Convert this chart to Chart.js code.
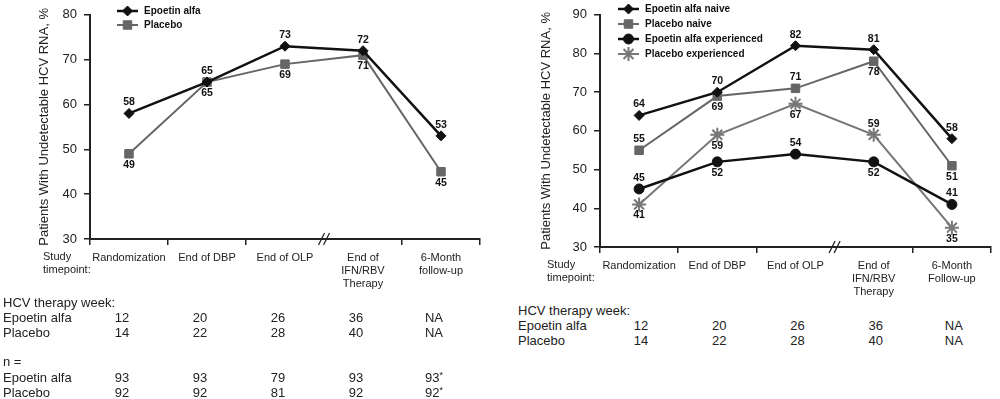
<!DOCTYPE html>
<html><head><meta charset="utf-8">
<script src="https://cdn.jsdelivr.net/npm/chart.js@4"></script>
<style>
html,body{margin:0;padding:0;background:#fff;}
body{width:1000px;height:399px;position:relative;overflow:hidden;font-family:"Liberation Sans",Arial,sans-serif;color:#222;}
canvas{position:absolute;top:0;}
.t{position:absolute;font-size:13px;line-height:15px;white-space:nowrap;}
.c{transform:translateX(-50%);}
sup{font-size:9px;vertical-align:4px;line-height:0;}
</style></head><body>
<canvas id="c1" width="490" height="300" style="left:0"></canvas>
<canvas id="c2" width="500" height="300" style="left:500px"></canvas>
<div id="tables"></div>
<script>
// ---- data ----
const categoriesLeft = [['Randomization'], ['End of DBP'], ['End of OLP'], ['End of', 'IFN/RBV', 'Therapy'], ['6-Month', 'follow-up']];
const categoriesRight = [['Randomization'], ['End of DBP'], ['End of OLP'], ['End of', 'IFN/RBV', 'Therapy'], ['6-Month', 'Follow-up']];
const epoetin = [58, 65, 73, 72, 53];
const placebo = [49, 65, 69, 71, 45];
const epoNaive = [64, 70, 82, 81, 58];
const pboNaive = [55, 69, 71, 78, 51];
const epoExp = [45, 52, 54, 52, 41];
const pboExp = [41, 59, 67, 59, 35];
const leftTicks = [30, 40, 50, 60, 70, 80];
const rightTicks = [30, 40, 50, 60, 70, 80, 90];
const yTitle = 'Patients With Undetectable HCV RNA, %';
const weekEpo = ['12', '20', '26', '36', 'NA'];
const weekPbo = ['14', '22', '28', '40', 'NA'];
const nEpo = ['93', '93', '79', '93', '93*'];
const nPbo = ['92', '92', '81', '92', '92*'];
// label placement: a = above, b = below
const posEpoetin = ['a', 'a', 'a', 'a', 'a'];
const posPlacebo = ['b', 'b', 'b', 'b', 'b'];
const posEpoNaive = ['a', 'a', 'a', 'a', 'a'];
const posPboNaive = ['a', 'b', 'a', 'b', 'b'];
const posEpoExp = ['a', 'b', 'a', 'b', 'a'];
const posPboExp = ['b', 'b', 'b', 'a', 'b'];

Chart.defaults.font.family = '"Liberation Sans", Arial, sans-serif';
Chart.defaults.color = '#222';

const BLACK = '#111';
const GRAY = '#666';

function makeDs(label, data, pos, color, style, radius, width) {
  return {
    label, data, labelPos: pos,
    borderColor: color, backgroundColor: color,
    pointBackgroundColor: color, pointBorderColor: color,
    pointStyle: style, pointRadius: radius, pointHoverRadius: radius,
    pointBorderWidth: style === 'star' ? 2 : 1,
    borderWidth: width, tension: 0, fill: false
  };
}

const dataLabels = {
  id: 'dataLabels',
  afterDatasetsDraw(chart) {
    const ctx = chart.ctx;
    ctx.save();
    ctx.font = 'bold 10.5px "Liberation Sans", Arial, sans-serif';
    ctx.fillStyle = '#111';
    ctx.textAlign = 'center';
    ctx.textBaseline = 'middle';
    chart.data.datasets.forEach((ds, i) => {
      const meta = chart.getDatasetMeta(i);
      meta.data.forEach((pt, j) => {
        const up = ds.labelPos[j] === 'a';
        ctx.fillText(String(ds.data[j]), pt.x, pt.y + (up ? -11 : 11));
      });
    });
    ctx.restore();
  }
};

const deco = {
  id: 'deco',
  afterDraw(chart, args, o) {
    const ctx = chart.ctx;
    const ca = chart.chartArea;
    const xs = chart.scales.x;
    ctx.save();
    // axis break
    const bx = (xs.getPixelForTick(2) + xs.getPixelForTick(3)) / 2;
    const by = ca.bottom;
    ctx.strokeStyle = '#222';
    ctx.lineWidth = 1.3;
    for (const dx of [-2.5, 2.5]) {
      ctx.beginPath();
      ctx.moveTo(bx + dx - 3, by + 6);
      ctx.lineTo(bx + dx + 3, by - 6);
      ctx.stroke();
    }
    // study timepoint label
    ctx.fillStyle = '#222';
    ctx.font = '11px "Liberation Sans", Arial, sans-serif';
    ctx.textAlign = 'left';
    ctx.textBaseline = 'middle';
    ctx.fillText('Study', ca.left + o.stOffset, by + 18);
    ctx.fillText('timepoint:', ca.left + o.stOffset, by + 31);
    // legend
    ctx.font = 'bold 10px "Liberation Sans Narrow", "Liberation Sans", Arial, sans-serif';
    chart.data.datasets.forEach((ds, i) => {
      const y = o.legendY + i * o.legendGap;
      ctx.strokeStyle = ds.borderColor;
      ctx.lineWidth = ds.borderWidth;
      ctx.beginPath();
      ctx.moveTo(o.legendX, y);
      ctx.lineTo(o.legendX + 21, y);
      ctx.stroke();
      ctx.fillStyle = ds.pointBackgroundColor;
      ctx.strokeStyle = ds.pointBorderColor;
      ctx.lineWidth = ds.pointBorderWidth;
      Chart.helpers.drawPoint(ctx, {pointStyle: ds.pointStyle, radius: ds.pointRadius, borderWidth: ds.pointBorderWidth, rotation: 0}, o.legendX + 10.5, y);
      ctx.fillStyle = '#111';
      ctx.fillText(ds.label, o.legendX + 27, y + 0.5);
    });
    ctx.restore();
  }
};

function makeOptions(c) {
  return {
    responsive: false, animation: false, devicePixelRatio: 1,
    layout: {padding: {left: c.padLeft, top: c.padTop, right: c.padRight, bottom: 0}},
    plugins: {
      legend: {display: false}, tooltip: {enabled: false},
      deco: {stOffset: c.stOffset, legendX: c.legendX, legendY: c.legendY, legendGap: c.legendGap}
    },
    scales: {
      x: {
        type: 'category', offset: true,
        afterFit(s) { s.height = c.xHeight; },
        grid: {offset: true, drawOnChartArea: false, drawTicks: true, tickLength: 6,
               color: (ctx) => ctx.index === 3 ? 'rgba(0,0,0,0)' : '#222', lineWidth: 1.5},
        border: {display: true, color: '#222', width: 2},
        ticks: {autoSkip: false, maxRotation: 0, minRotation: 0, padding: 6, color: '#222', font: {size: 11}}
      },
      y: {
        min: c.yMin, max: c.yMax,
        afterFit(s) { s.width = c.yWidth; },
        afterBuildTicks(s) { s.ticks = c.yTicks.map(v => ({value: v})); },
        grid: {drawOnChartArea: false, drawTicks: true, tickLength: 6, color: '#222', lineWidth: 1.5},
        border: {display: true, color: '#222', width: 2},
        ticks: {padding: 7, color: '#222', font: {size: 13}},
        title: {display: true, text: yTitle, font: {size: 13}, color: '#222', padding: 0}
      }
    }
  };
}

const chart1 = new Chart(document.getElementById('c1'), {
  type: 'line',
  data: {
    labels: categoriesLeft,
    datasets: [
      makeDs('Epoetin alfa', epoetin, posEpoetin, BLACK, 'rectRot', 5, 2.5),
      makeDs('Placebo', placebo, posPlacebo, GRAY, 'rect', 6, 2)
    ]
  },
  options: makeOptions({padLeft: 37, yWidth: 53, padTop: 3, padRight: 10, xHeight: 61,
    yMin: 30, yMax: 80, yTicks: leftTicks, stOffset: -47, legendX: 117, legendY: 11, legendGap: 14}),
  plugins: [dataLabels, deco]
});

const chart2 = new Chart(document.getElementById('c2'), {
  type: 'line',
  data: {
    labels: categoriesRight,
    datasets: [
      makeDs('Epoetin alfa naive', epoNaive, posEpoNaive, BLACK, 'rectRot', 5, 2.5),
      makeDs('Placebo naive', pboNaive, posPboNaive, GRAY, 'rect', 6, 2),
      makeDs('Epoetin alfa experienced', epoExp, posEpoExp, BLACK, 'circle', 5, 2.5),
      makeDs('Placebo experienced', pboExp, posPboExp, '#777', 'star', 7, 2)
    ]
  },
  options: makeOptions({padLeft: 39, yWidth: 61, padTop: 6, padRight: 3, xHeight: 53,
    yMin: 30, yMax: 90, yTicks: rightTicks, stOffset: -53, legendX: 118, legendY: 9, legendGap: 15}),
  plugins: [dataLabels, deco]
});

// ---- tables ----
const tables = document.getElementById('tables');
function addText(txt, x, yc, center) {
  const d = document.createElement('div');
  d.className = 't' + (center ? ' c' : '');
  d.style.left = x + 'px';
  d.style.top = (yc - 7.5) + 'px';
  const star = txt.endsWith('*');
  d.textContent = star ? txt.slice(0, -1) : txt;
  if (star) { const s = document.createElement('sup'); s.textContent = '*'; d.appendChild(s); }
  tables.appendChild(d);
}
function colX(chart, offsetLeft, shift, i) {
  return offsetLeft + chart.scales.x.getPixelForTick(i) + shift;
}
// left table
addText('HCV therapy week:', 3, 302);
addText('Epoetin alfa', 3, 317);
addText('Placebo', 3, 332);
addText('n =', 3, 361);
addText('Epoetin alfa', 3, 377);
addText('Placebo', 3, 392);
weekEpo.forEach((v, i) => addText(v, colX(chart1, 0, -7, i), 317, true));
weekPbo.forEach((v, i) => addText(v, colX(chart1, 0, -7, i), 332, true));
nEpo.forEach((v, i) => addText(v, colX(chart1, 0, -7, i), 377, true));
nPbo.forEach((v, i) => addText(v, colX(chart1, 0, -7, i), 392, true));
// right table
addText('HCV therapy week:', 518, 310);
addText('Epoetin alfa', 518, 325);
addText('Placebo', 518, 340);
weekEpo.forEach((v, i) => addText(v, colX(chart2, 500, 2, i), 325, true));
weekPbo.forEach((v, i) => addText(v, colX(chart2, 500, 2, i), 340, true));
</script>
</body></html>
